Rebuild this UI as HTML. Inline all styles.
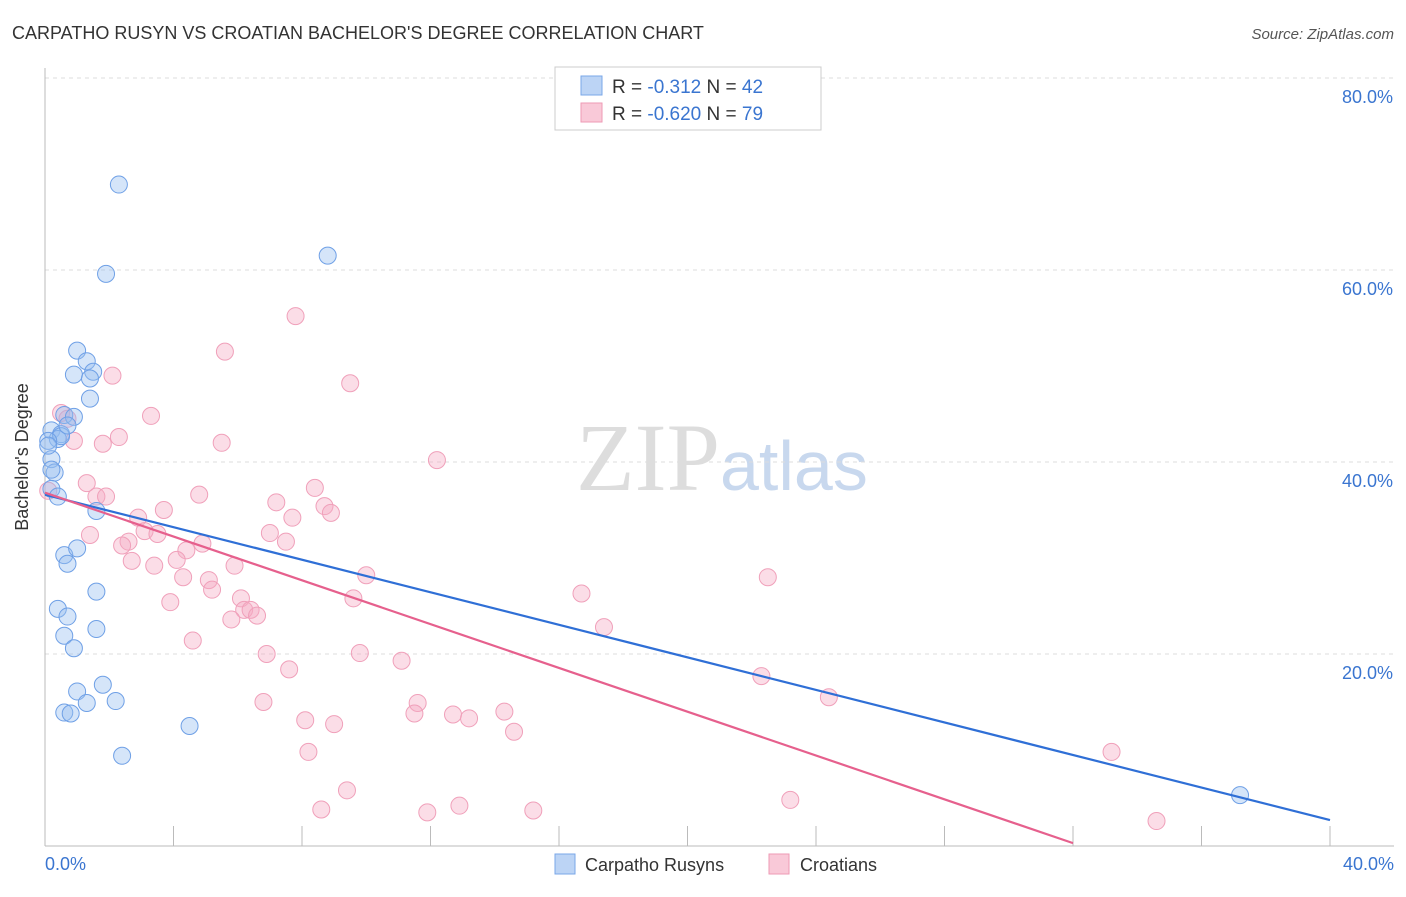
<!DOCTYPE html>
<html><head><meta charset="utf-8"><style>
body{margin:0;background:#fff;font-family:"Liberation Sans",sans-serif}
</style></head><body>
<svg id="chart" width="1406" height="892" xmlns="http://www.w3.org/2000/svg">
<text x="12" y="39" font-size="18" fill="#333">CARPATHO RUSYN VS CROATIAN BACHELOR'S DEGREE CORRELATION CHART</text>
<text x="1394" y="39" font-size="15" fill="#555" font-style="italic" text-anchor="end">Source: ZipAtlas.com</text>
<text x="720" y="490" font-size="96" fill="#ddd" text-anchor="end" font-family="Liberation Serif">ZIP</text>
<text x="720" y="490" font-size="70" fill="#c8d8ee">atlas</text>
<g id="grid"></g>
<line x1="45" y1="68" x2="45" y2="846" stroke="#bbb"/>
<line x1="45" y1="846" x2="1394" y2="846" stroke="#bbb"/>
<text x="28" y="457" font-size="18" fill="#333" text-anchor="middle" transform="rotate(-90 28 457)">Bachelor's Degree</text>
<text x="45" y="870" font-size="18" fill="#3a75d0">0.0%</text>
<text x="1394" y="870" font-size="18" fill="#3a75d0" text-anchor="end">40.0%</text>
<g id="pts"></g>
<g id="lines"></g>
<rect x="555" y="67" width="266" height="63" fill="#fff" stroke="#ccc"/>
<rect x="581" y="76" width="21" height="19" fill="#bcd4f5" stroke="#7aa7e8"/>
<rect x="581" y="103" width="21" height="19" fill="#f9c9d8" stroke="#ee9ab5"/>
<text x="612" y="93" font-size="19" fill="#333">R = <tspan fill="#3a75d0">-0.312</tspan>   N = <tspan fill="#3a75d0">42</tspan></text>
<text x="612" y="120" font-size="19" fill="#333">R = <tspan fill="#3a75d0">-0.620</tspan>   N = <tspan fill="#3a75d0">79</tspan></text>
<rect x="555" y="854" width="20" height="20" fill="#bcd4f5" stroke="#7aa7e8"/>
<text x="585" y="871" font-size="18" fill="#333">Carpatho Rusyns</text>
<rect x="769" y="854" width="20" height="20" fill="#f9c9d8" stroke="#ee9ab5"/>
<text x="800" y="871" font-size="18" fill="#333">Croatians</text>
</svg>
<script>
const yTicks=[20,40,60,80];
const xTicks=[0,4,8,12,16,20,24,28,32,36,40];
const blueX=[2.3,1.9,8.8,1.0,1.3,0.9,1.5,1.4,1.4,0.6,0.9,0.2,0.5,0.4,0.2,0.3,0.2,1.6,0.6,1.0,0.7,1.6,0.4,0.7,1.6,0.6,0.9,1.0,1.8,0.6,0.8,1.3,2.2,4.5,2.4,37.2,0.2,0.5,0.1,0.4,0.7,0.1];
const blueY=[68.9,59.6,61.5,51.6,50.5,49.1,49.4,48.7,46.6,44.9,44.7,43.3,42.9,42.4,40.3,38.9,37.2,34.9,30.3,31.0,29.4,26.5,24.7,23.9,22.6,21.9,20.6,16.1,16.8,13.9,13.8,14.9,15.1,12.5,9.4,5.3,39.2,42.7,42.2,36.4,43.8,41.7];
const pinkX=[7.8,5.6,2.1,9.5,3.3,0.5,0.7,0.9,1.8,2.3,5.5,12.2,1.3,1.6,1.9,4.8,8.4,7.2,8.7,8.9,7.7,3.7,2.9,3.1,3.5,1.4,2.6,2.4,4.9,4.4,7.5,7.0,2.7,3.4,4.1,5.9,10.0,4.3,5.1,5.2,3.9,6.1,6.2,6.4,6.6,5.8,9.6,4.6,6.9,9.8,11.1,7.6,16.7,17.4,22.5,22.3,24.4,6.8,8.1,9.0,11.6,11.5,12.7,13.2,14.3,14.6,8.2,33.2,9.4,8.6,11.9,12.9,15.2,23.2,34.6,0.1];
const pinkY=[55.2,51.5,49.0,48.2,44.8,45.1,44.5,42.2,41.9,42.6,42.0,40.2,37.8,36.4,36.4,36.6,37.3,35.8,35.4,34.7,34.2,35.0,34.2,32.8,32.5,32.4,31.7,31.3,31.5,30.8,31.7,32.6,29.7,29.2,29.8,29.2,28.2,28.0,27.7,26.7,25.4,25.8,24.6,24.6,24.0,23.6,25.8,21.4,20.0,20.1,19.3,18.4,26.3,22.8,28.0,17.7,15.5,15.0,13.1,12.7,14.9,13.8,13.7,13.3,14.0,11.9,9.8,9.8,5.8,3.8,3.5,4.2,3.7,4.8,2.6,37.0];
const blueFit=[36.6,2.7];
const pinkFit=[36.8,0.3,32];
const X=v=>45+v*(1285/40), Y=v=>846-v*9.6;
const NS="http://www.w3.org/2000/svg";
const grid=document.getElementById('grid'),pts=document.getElementById('pts'),lines=document.getElementById('lines');
function mk(tag,attrs,parent){const e=document.createElementNS(NS,tag);for(const k in attrs)e.setAttribute(k,attrs[k]);parent.appendChild(e);return e;}
yTicks.forEach(t=>{
 const l=mk('line',{x1:45,x2:1394,y1:Y(t),y2:Y(t),stroke:'#ddd','stroke-dasharray':'4,4'},grid);
 
 
 const tx=mk('text',{x:1393,y:Y(t)+25,'font-size':18,fill:'#3a75d0','text-anchor':'end'},grid);
 tx.textContent=t.toFixed(1)+'%';
 
 
});
xTicks.forEach(t=>{
 const l=mk('line',{x1:X(t),x2:X(t),y1:826,y2:846,stroke:'#bbb'},grid);
 
 
});
pinkX.forEach((v,i)=>{
 const c=mk('circle',{cx:X(v),cy:Y(pinkY[i]),r:8.5,fill:'rgba(246,170,195,0.4)',stroke:'#f0a0ba','stroke-width':1},pts);
 
 
});
blueX.forEach((v,i)=>{
 const c=mk('circle',{cx:X(v),cy:Y(blueY[i]),r:8.5,fill:'rgba(150,190,240,0.4)',stroke:'#6fa0e6','stroke-width':1},pts);
 
 
});
const bl=mk('line',{x1:X(0),y1:Y(blueFit[0]),x2:X(40),y2:Y(blueFit[1]),stroke:'#2f6fd6','stroke-width':2.2},lines);


const pl=mk('line',{x1:X(0),y1:Y(pinkFit[0]),x2:X(pinkFit[2]),y2:Y(pinkFit[1]),stroke:'#e6608d','stroke-width':2.2},lines);


</script>
</body></html>
